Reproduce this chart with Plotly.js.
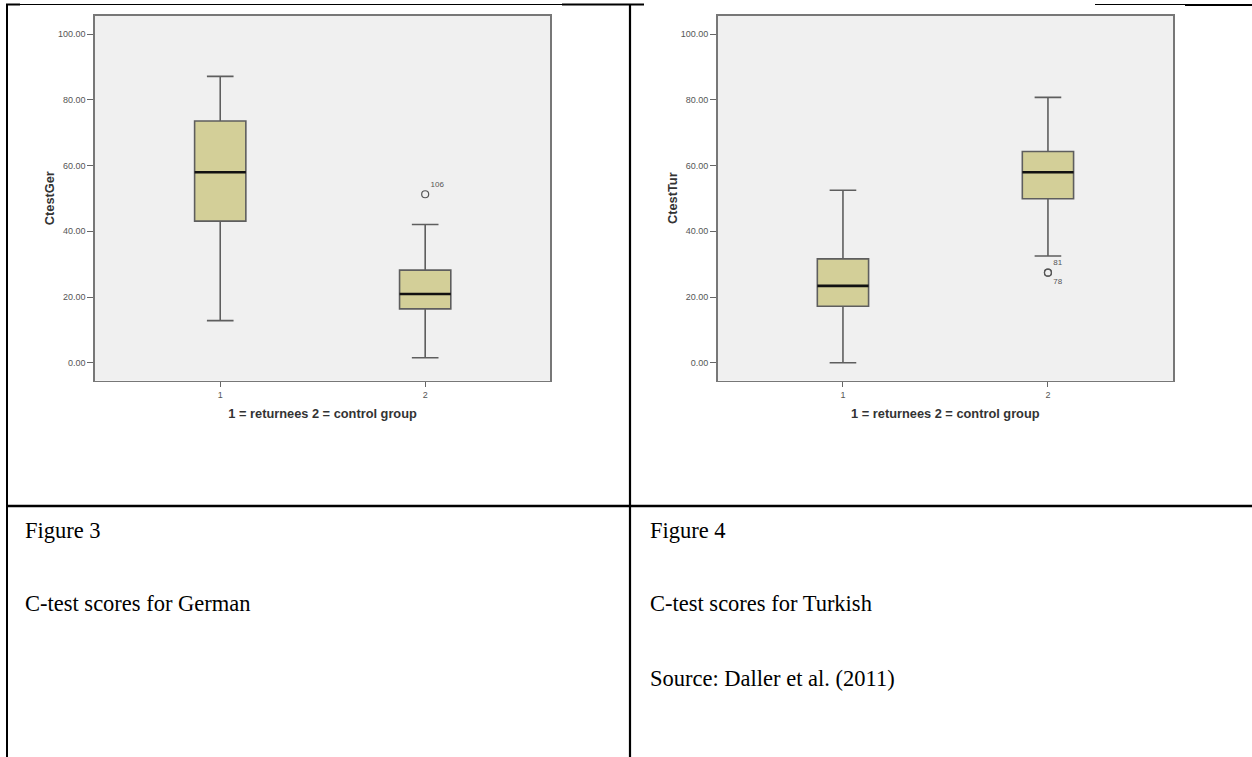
<!DOCTYPE html>
<html>
<head>
<meta charset="utf-8">
<script src="https://cdn.plot.ly/plotly-3.0.1.min.js"></script>
<style>
html,body{margin:0;padding:0;background:#fff;}
#chart{width:1252px;height:757px;}
</style>
</head>
<body>
<div id="chart"></div>
<script>
// ---- data ----
const categories = ['1', '2'];
const tickVals = [0, 20, 40, 60, 80, 100];

// Figure 3: C-test German
const gerQ1 = [43.1, 16.4];
const gerMedian = [58.0, 20.9];
const gerQ3 = [73.6, 28.2];
const gerLower = [12.8, 1.5];
const gerUpper = [87.2, 42.1];
const gerOutlierX = ['2'];
const gerOutlierY = [51.3];
const gerOutlierLabel = ['106'];

// Figure 4: C-test Turkish
const turQ1 = [17.2, 49.9];
const turMedian = [23.4, 58.0];
const turQ3 = [31.6, 64.3];
const turLower = [0.0, 32.5];
const turUpper = [52.5, 80.8];
const turOutlierX = ['2', '2'];
const turOutlierY = [27.4, 27.4];
const turOutlierLabel = ['81', '78'];

const yTitles = ['CtestGer', 'CtestTur'];
const xTitle = '1 = returnees 2 = control group';
const captions = [
  ['Figure 3', 'C-test scores for German'],
  ['Figure 4', 'C-test scores for Turkish', 'Source: Daller et al. (2011)']
];

// ---- styling ----
const W = 1252, H = 757;
const px = x => x / W;
const py = y => 1 - y / H;
const sans = 'Liberation Sans, Arial, sans-serif';
const serif = 'Liberation Serif, Times New Roman, serif';
const boxFill = '#d3cf98';
const boxLine = '#5e5e5e';

function boxTraces(q1, med, q3, lo, hi, ax, ay) {
  return [
    {
      type: 'box', x: categories, q1: q1, median: med, q3: q3,
      lowerfence: lo, upperfence: hi, boxpoints: false,
      width: 0.25, whiskerwidth: 0.52,
      fillcolor: boxFill, line: {color: boxLine, width: 1.6},
      xaxis: ax, yaxis: ay, hoverinfo: 'skip', showlegend: false
    },
    { // heavier black median line
      type: 'box', x: categories, q1: med, median: med, q3: med,
      lowerfence: med, upperfence: med, boxpoints: false,
      width: 0.25, whiskerwidth: 0,
      fillcolor: 'rgba(0,0,0,0)', line: {color: '#111', width: 2.6},
      xaxis: ax, yaxis: ay, hoverinfo: 'skip', showlegend: false
    }
  ];
}

function outlierTrace(xs, ys, labels, positions, ax, ay) {
  return {
    type: 'scatter', mode: 'markers+text', x: xs, y: ys, text: labels,
    textposition: positions,
    textfont: {family: sans, size: 8, color: '#555'},
    marker: {symbol: 'circle-open', size: 7, color: '#555', line: {width: 1.2, color: '#555'}},
    xaxis: ax, yaxis: ay, hoverinfo: 'skip', showlegend: false, cliponaxis: false
  };
}

const data = [
  ...boxTraces(gerQ1, gerMedian, gerQ3, gerLower, gerUpper, 'x', 'y'),
  outlierTrace(gerOutlierX, gerOutlierY, gerOutlierLabel, ['top right'], 'x', 'y'),
  ...boxTraces(turQ1, turMedian, turQ3, turLower, turUpper, 'x2', 'y2'),
  outlierTrace(turOutlierX, turOutlierY, turOutlierLabel, ['top right', 'bottom right'], 'x2', 'y2')
];

function xAxis(domain, anchor) {
  return {
    domain: domain, anchor: anchor, type: 'category',
    categoryorder: 'array', categoryarray: categories,
    range: [-0.612, 1.611], fixedrange: true,
    showgrid: false, zeroline: false,
    showline: true, mirror: true, linecolor: '#777', linewidth: 1.5,
    ticks: 'outside', ticklen: 5, tickwidth: 1, tickcolor: '#666',
    tickfont: {family: sans, size: 9, color: '#555'},
    title: {text: xTitle, font: {family: sans, size: 12.8, color: '#333', weight: 'bold'}, standoff: 10}
  };
}
function yAxis(domain, anchor, title) {
  return {
    domain: domain, anchor: anchor,
    range: [-5.48, 105.66], fixedrange: true,
    tickvals: tickVals, tickformat: '.2f',
    showgrid: false, zeroline: false,
    showline: true, mirror: true, linecolor: '#777', linewidth: 1.5,
    ticks: 'outside', ticklen: 6, tickwidth: 1, tickcolor: '#666',
    tickfont: {family: sans, size: 9, color: '#555'},
    title: {text: title, font: {family: sans, size: 12.8, color: '#333', weight: 'bold'}, standoff: 0}
  };
}

const yDom = [py(380.7), py(15.7)];

const lineShape = (x0, y0, x1, y1, w) => ({
  type: 'line', xref: 'paper', yref: 'paper',
  x0: px(x0), y0: py(y0), x1: px(x1), y1: py(y1),
  line: {color: '#000', width: w}
});

const shapes = [
  lineShape(7, 4, 7, 757, 2),          // left border
  lineShape(630, 4, 630, 757, 2.2),    // middle border
  lineShape(6, 506, 1252, 506, 2.5),   // row separator
  lineShape(6, 4.5, 20, 4.5, 2),       // top border pieces
  lineShape(20, 4.5, 562, 4.5, 1),
  lineShape(562, 4.5, 644, 4.5, 2),
  lineShape(1095, 4.5, 1185, 4.5, 1),
  lineShape(1185, 5, 1252, 5, 2.2)
];

const capFont = {family: serif, size: 22.5, color: '#000'};
const capY = [530, 603, 678];
const capX = [23, 648];
const annotations = [];
captions.forEach((lines, i) => {
  lines.forEach((t, j) => {
    annotations.push({
      xref: 'paper', yref: 'paper', x: px(capX[i]), y: py(capY[j]),
      xanchor: 'left', yanchor: 'middle', text: t, showarrow: false, font: capFont
    });
  });
});

const layout = {
  width: W, height: H,
  margin: {l: 0, r: 0, t: 0, b: 0, pad: 0},
  paper_bgcolor: '#fff', plot_bgcolor: '#f0f0f0',
  showlegend: false,
  xaxis: xAxis([px(94.8), px(550.4)], 'y'),
  yaxis: yAxis(yDom, 'x', yTitles[0]),
  xaxis2: xAxis([px(717.5), px(1173.2)], 'y2'),
  yaxis2: yAxis(yDom, 'x2', yTitles[1]),
  shapes: shapes,
  annotations: annotations
};

Plotly.newPlot('chart', data, layout, {displayModeBar: false, staticPlot: true});
</script>
</body>
</html>
